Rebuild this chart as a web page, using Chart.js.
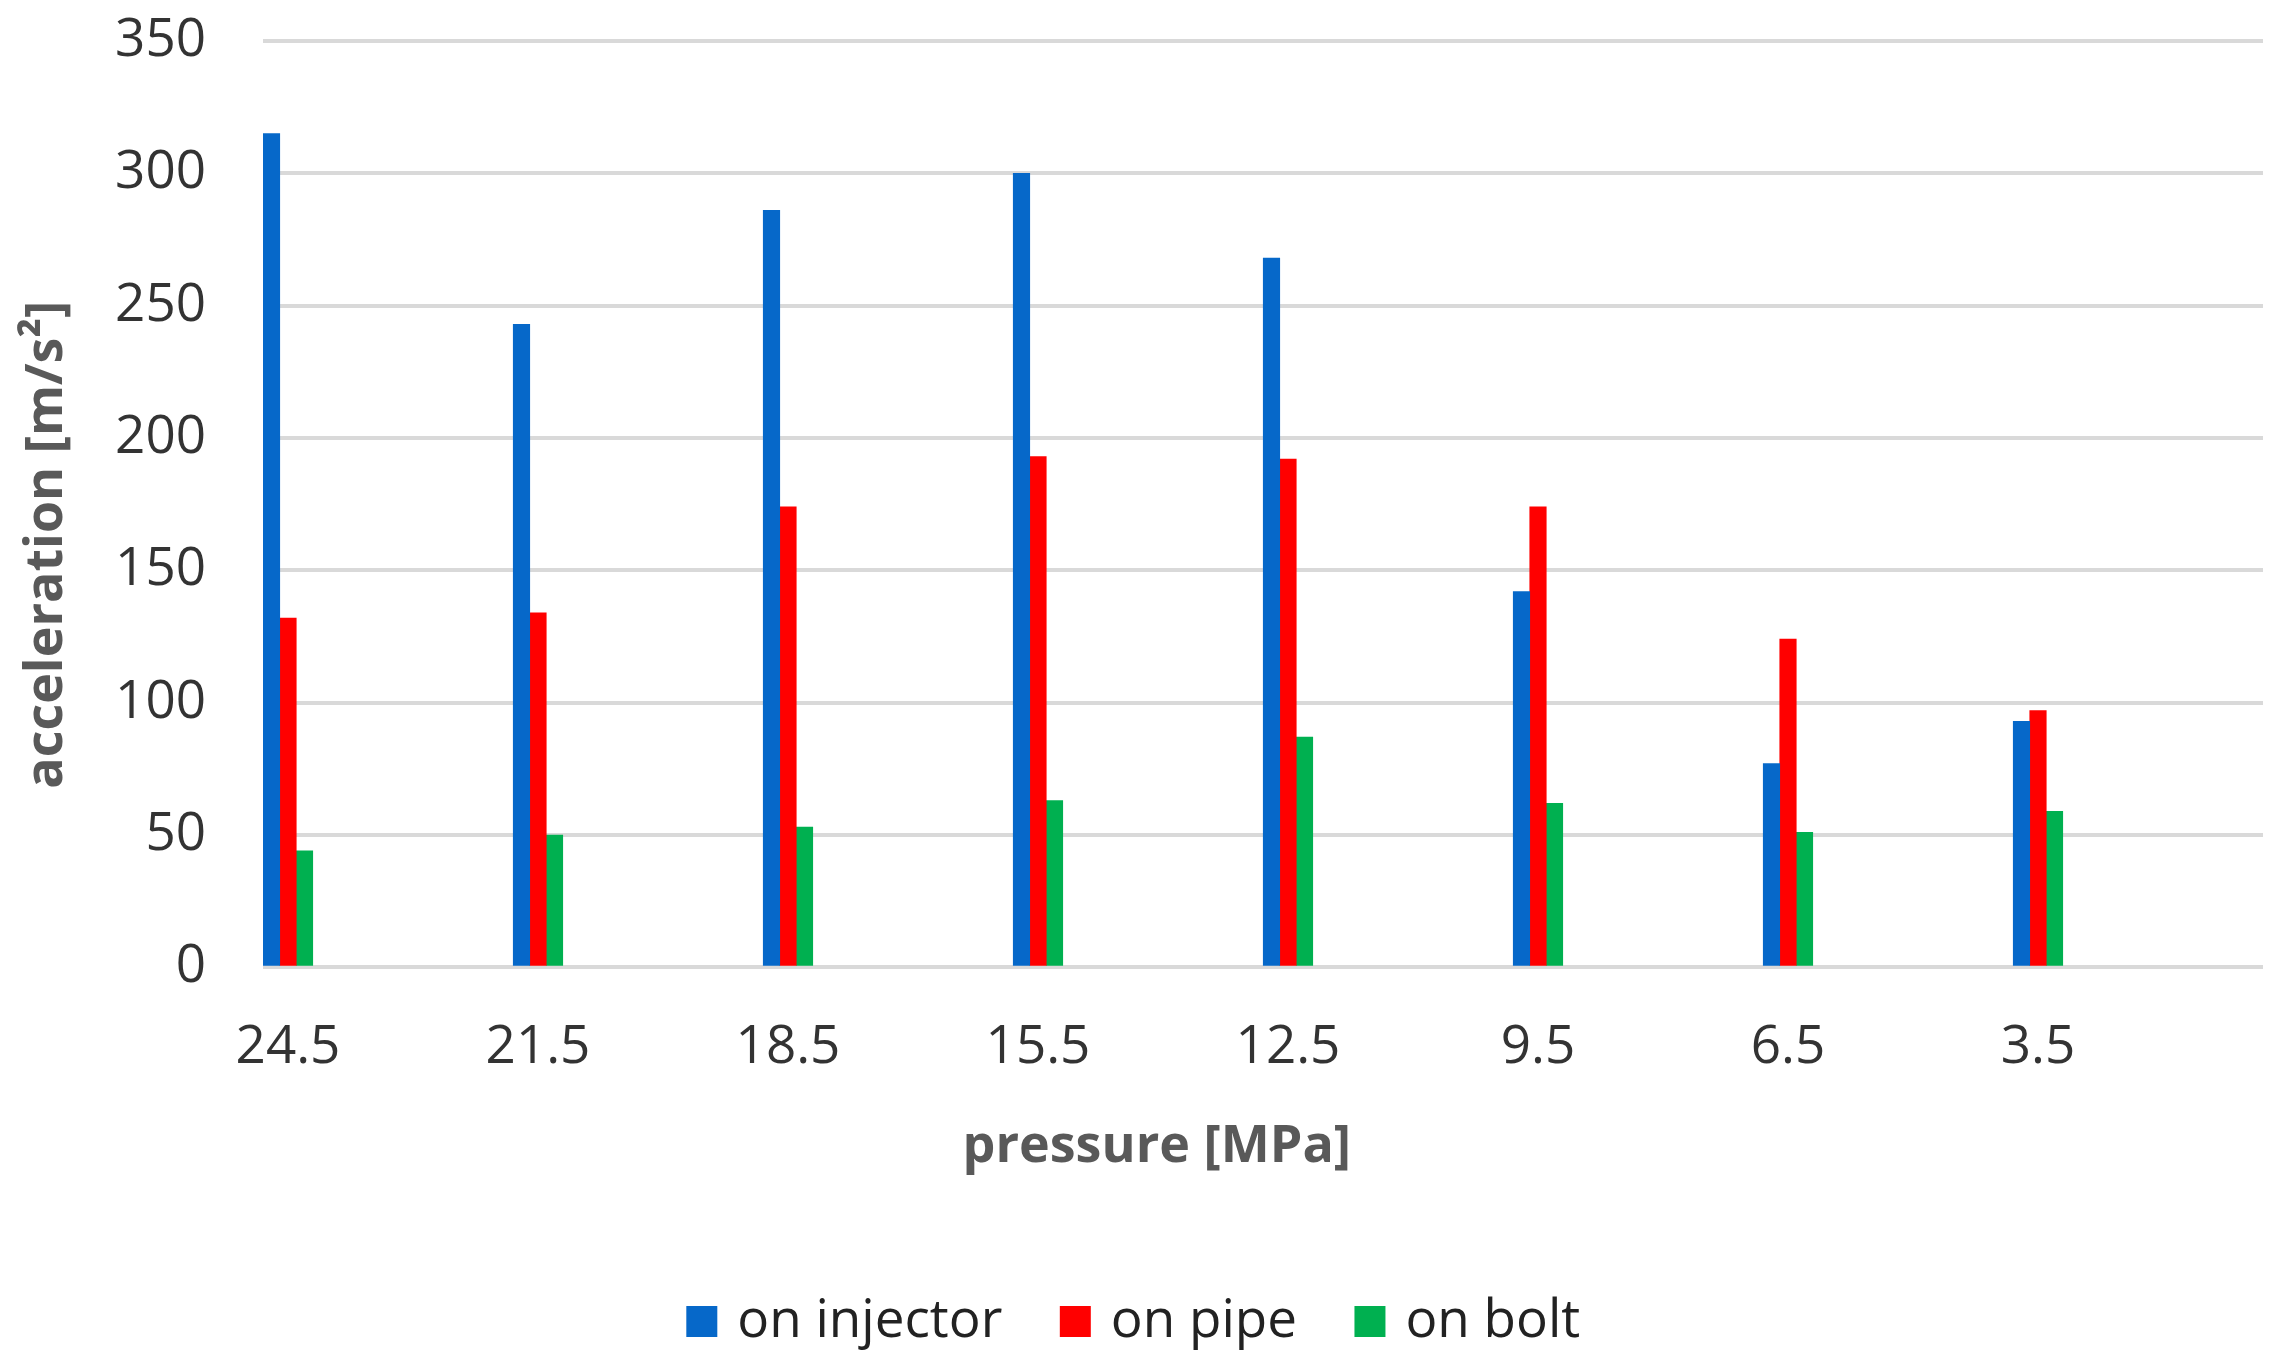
<!DOCTYPE html>
<html>
<head>
<meta charset="utf-8">
<script src="https://cdn.jsdelivr.net/npm/chart.js@4.4.1/dist/chart.umd.min.js"></script>
<style>
  html, body { margin: 0; padding: 0; background: #fff; }
  #wrap { width: 2286px; height: 1364px; }
</style>
</head>
<body>
<div id="wrap"><canvas id="chart"></canvas></div>
<script>
'use strict';

const pressures = ['24.5', '21.5', '18.5', '15.5', '12.5', '9.5', '6.5', '3.5'];
const onInjector = [315, 243, 286, 300, 268, 142, 77, 93];
const onPipe = [132, 134, 174, 193, 192, 174, 124, 97];
const onBolt = [44, 50, 53, 63, 87, 62, 51, 59];
const yTicks = [0, 50, 100, 150, 200, 250, 300, 350];

const FONT = 'Open Sans';
const NB = '\u00A0';
const toPoints = (vals) => vals.map((y, i) => ({ x: i, y }));

const makeSet = (label, vals, color) => ({
  label,
  data: toPoints(vals),
  backgroundColor: color,
  borderWidth: 0,
  barThickness: 16.5,
});

const ctx = document.getElementById('chart').getContext('2d');
new Chart(ctx, {
  type: 'bar',
  data: {
    datasets: [
      makeSet('on injector', onInjector, '#0668C9'),
      makeSet('on pipe', onPipe, '#FF0000'),
      makeSet('on bolt', onBolt, '#00B050'),
    ],
  },
  options: {
    responsive: true,
    maintainAspectRatio: false,
    animation: false,
    layout: { padding: { left: 10, right: 23, top: 41, bottom: 6 } },
    plugins: {
      tooltip: { enabled: false },
      // x axis title as a bottom title: the original centres it on the figure, not the plot
      title: {
        display: true,
        position: 'bottom',
        weight: 500,
        text: NB.repeat(3) + 'pressure [MPa]',
        color: '#595959',
        font: { family: FONT, size: 52, weight: 'bold', lineHeight: 1.0 },
        padding: { top: 0, bottom: 58 },
      },
      legend: {
        position: 'bottom',
        labels: {
          font: { family: FONT, size: 53 },
          color: '#222',
          usePointStyle: true,
          pointStyle: 'rect',
          boxWidth: 18,
          boxHeight: 31,
          padding: 64,
        },
      },
    },
    scales: {
      x: {
        type: 'linear',
        min: -0.1,
        max: 7.9,
        offset: false,
        grid: { display: false },
        border: { display: false },
        afterBuildTicks: (axis) => { axis.ticks = pressures.map((_, i) => ({ value: i })); },
        ticks: {
          autoSkip: false,
          maxRotation: 0,
          padding: 41,
          color: '#333',
          font: { family: FONT, size: 53 },
          callback: (v) => pressures[v] ?? '',
        },
      },
      y: {
        min: 0,
        max: 350,
        afterBuildTicks: (axis) => { axis.ticks = yTicks.map(v => ({ value: v })); },
        afterFit: (axis) => { axis.width = 253; axis.paddingTop = 0; },
        grid: { color: '#D9D9D9', lineWidth: 4, drawTicks: false },
        border: { display: false },
        ticks: {
          padding: 57,
          color: '#333',
          font: { family: FONT, size: 53 },
        },
        title: {
          display: true,
          // trailing spaces push the title a little below the plot centre, as in the original
          text: 'acceleration [m/s²]' + NB.repeat(6),
          color: '#595959',
          font: { family: FONT, size: 52, weight: 'bold' },
          padding: { top: 6, bottom: 0 },
        },
      },
    },
  },
});
</script>
</body>
</html>
